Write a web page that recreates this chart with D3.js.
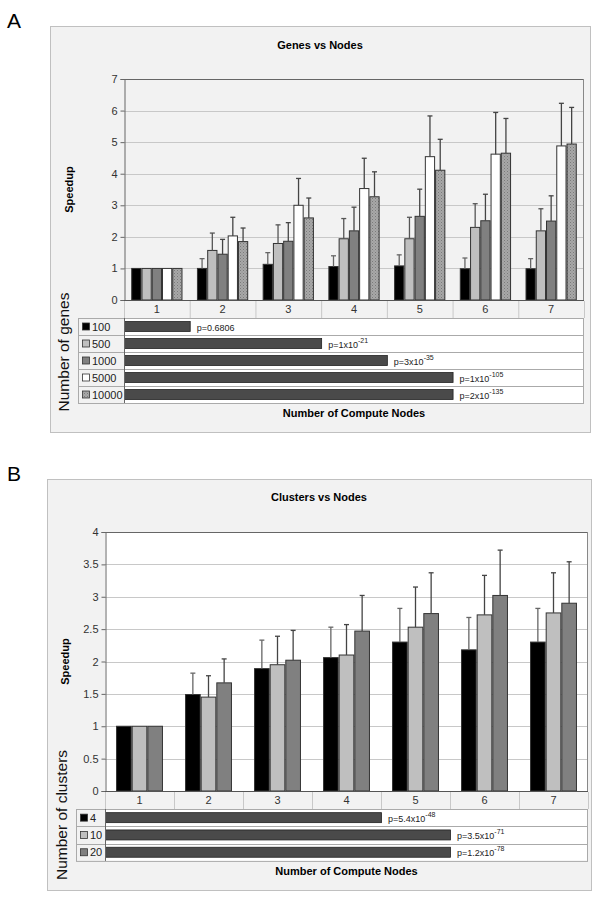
<!DOCTYPE html>
<html><head><meta charset="utf-8">
<script src="https://cdn.jsdelivr.net/npm/d3@7"></script>
<style>body{margin:0;background:#fff;font-family:"Liberation Sans",Arial,Helvetica,sans-serif}</style>
</head><body>
<svg id="c" width="600" height="901"></svg>
<script>
// ---------- data ----------
const nodes = ["1","2","3","4","5","6","7"];

const geneSeries = ["100","500","1000","5000","10000"];
const geneMean100   = [1.00,1.00,1.13,1.06,1.08,0.99,0.99];
const geneMean500   = [1.00,1.57,1.79,1.94,1.94,2.30,2.19];
const geneMean1000  = [1.00,1.45,1.86,2.19,2.65,2.51,2.50];
const geneMean5000  = [1.00,2.03,3.00,3.53,4.54,4.62,4.88];
const geneMean10000 = [1.00,1.85,2.60,3.27,4.11,4.65,4.94];
const geneErr100    = [0,0.31,0.37,0.34,0.35,0.34,0.32];
const geneErr500    = [0,0.55,0.59,0.64,0.68,0.75,0.70];
const geneErr1000   = [0,0.47,0.59,0.75,0.86,0.84,0.80];
const geneErr5000   = [0,0.59,0.85,0.96,1.29,1.32,1.35];
const geneErr10000  = [0,0.43,0.63,0.79,0.98,1.10,1.16];
const geneSigNodes  = [1,3,4,5,5];
const genePBase     = ["p=0.6806","p=1x10","p=3x10","p=1x10","p=2x10"];
const genePExp      = ["","-21","-35","-105","-135"];

const clusterSeries = ["4","10","20"];
const clusterMean4  = [1.00,1.49,1.89,2.06,2.30,2.18,2.30];
const clusterMean10 = [1.00,1.45,1.95,2.10,2.53,2.72,2.75];
const clusterMean20 = [1.00,1.67,2.02,2.47,2.74,3.02,2.90];
const clusterErr4   = [0,0.33,0.44,0.47,0.52,0.50,0.52];
const clusterErr10  = [0,0.33,0.44,0.47,0.62,0.61,0.62];
const clusterErr20  = [0,0.37,0.46,0.55,0.63,0.70,0.64];
const clusterSigNodes = [4,5,5];
const clusterPBase  = ["p=5.4x10","p=3.5x10","p=1.2x10"];
const clusterPExp   = ["-48","-71","-78"];

const yTicksA = [0,1,2,3,4,5,6,7];
const yTicksB = [0,0.5,1,1.5,2,2.5,3,3.5,4];
const yTickLabelsB = ["0","0.5","1","1.5","2","2.5","3","3.5","4"];

// ---------- drawing ----------
const svg = d3.select("#c");
const defs = svg.append("defs");
const pat = defs.append("pattern").attr("id","hatch").attr("patternUnits","userSpaceOnUse")
  .attr("width",3).attr("height",3);
pat.append("rect").attr("width",3).attr("height",3).attr("fill","#a8a8a8");
pat.append("rect").attr("x",0).attr("y",0).attr("width",1).attr("height",1).attr("fill","#7a7a7a");
pat.append("rect").attr("x",1.5).attr("y",1.5).attr("width",1).attr("height",1).attr("fill","#8a8a8a");

const FONT = '"Liberation Sans",Arial,Helvetica,sans-serif';

function panel(cfg){
  const g = svg.append("g");
  g.append("text").attr("x",cfg.letterX).attr("y",cfg.letterY).text(cfg.letter)
    .attr("font-size",21).attr("font-family",FONT).attr("fill","#000");
  g.append("rect").attr("x",cfg.box[0]+0.5).attr("y",cfg.box[1]+0.5)
    .attr("width",cfg.box[2]-cfg.box[0]).attr("height",cfg.box[3]-cfg.box[1])
    .attr("fill","#f2f2f2").attr("stroke","#c0c0c0");
  g.append("text").attr("x",(cfg.box[0]+cfg.box[2])/2).attr("y",cfg.titleY)
    .attr("text-anchor","middle").attr("font-weight","bold").attr("font-size",11)
    .attr("font-family",FONT).text(cfg.title);

  const [L,T,R,B] = cfg.plot;
  const y = d3.scaleLinear().domain([0,cfg.yMax]).range([B,T]);
  const x = d3.scaleBand().domain(nodes).range([L,R]).paddingInner(0).paddingOuter(0);
  const xLin = d3.scaleLinear().domain([0,nodes.length]).range([L,R]);
  const xs = d3.scaleBand().domain(cfg.series).range([0,x.bandwidth()*cfg.groupFrac]);
  const groupOff = (x.bandwidth()-x.bandwidth()*cfg.groupFrac)/2;

  g.append("rect").attr("x",L).attr("y",T).attr("width",R-L).attr("height",B-T).attr("fill",cfg.plotBg);
  g.append("g").selectAll("line").data(cfg.yTicks.filter(v=>v>0 && v<cfg.yMax)).join("line")
    .attr("x1",L).attr("x2",R).attr("y1",d=>Math.round(y(d))+0.5).attr("y2",d=>Math.round(y(d))+0.5)
    .attr("stroke","#c8c8c8");
  const ya = d3.axisLeft(y).tickValues(cfg.yTicks).tickSize(4).tickFormat((d,i)=>cfg.yLabels[i]);
  const yg = g.append("g").attr("transform",`translate(${L+0.5},0)`).call(ya);
  yg.select(".domain").attr("stroke","#666");
  yg.selectAll(".tick line").attr("stroke","#666");
  yg.selectAll("text").attr("font-size",11).attr("font-family",FONT).attr("fill","#333").attr("x",-7);
  g.append("line").attr("x1",L).attr("x2",R).attr("y1",T+0.5).attr("y2",T+0.5).attr("stroke","#666").attr("stroke-width",1.2);
  g.append("line").attr("x1",R-0.5).attr("x2",R-0.5).attr("y1",T).attr("y2",B).attr("stroke","#888");

  cfg.series.forEach((s,si)=>{
    const means = cfg.means[si], errs = cfg.errs[si];
    const bg = g.append("g");
    bg.selectAll("rect").data(nodes).join("rect")
      .attr("x",d=>x(d)+groupOff+xs(s)+0.5)
      .attr("y",(d,i)=>y(means[i]))
      .attr("width",xs.bandwidth()-1)
      .attr("height",(d,i)=>B-y(means[i]))
      .attr("fill",cfg.colors[si]).attr("stroke","#333").attr("stroke-width",1);
    const eg = g.append("g").attr("stroke",cfg.errColors[si]).attr("stroke-width",1.3);
    nodes.forEach((d,i)=>{
      if(errs[i]<=0) return;
      const cx = x(d)+groupOff+xs(s)+xs.bandwidth()/2;
      eg.append("line").attr("x1",cx).attr("x2",cx).attr("y1",y(means[i])).attr("y2",y(means[i]+errs[i]));
      eg.append("line").attr("x1",cx-2.5).attr("x2",cx+2.5).attr("y1",y(means[i]+errs[i])).attr("y2",y(means[i]+errs[i]));
    });
  });
  g.append("line").attr("x1",L).attr("x2",R).attr("y1",B+0.5).attr("y2",B+0.5).attr("stroke","#555").attr("stroke-width",1.2);

  const catTop = B+1, catBot = cfg.tableTop;
  g.append("g").selectAll("line").data(d3.range(nodes.length+1)).join("line")
    .attr("x1",i=>xLin(i)+0.5).attr("x2",i=>xLin(i)+0.5).attr("y1",catTop).attr("y2",catBot)
    .attr("stroke","#c8c8c8");
  g.append("g").selectAll("text").data(nodes).join("text")
    .attr("x",d=>x(d)+x.bandwidth()/2).attr("y",catBot-5).attr("text-anchor","middle")
    .attr("font-size",11).attr("font-family",FONT).attr("fill","#333").text(d=>d);

  const rh = cfg.rowH, tL = cfg.legendX;
  const nRows = cfg.series.length;
  const tBot = cfg.tableTop + rh*nRows;
  g.append("rect").attr("x",L).attr("y",cfg.tableTop).attr("width",R-L).attr("height",tBot-cfg.tableTop).attr("fill","#fff");
  cfg.series.forEach((s,ri)=>{
    const ry = cfg.tableTop + ri*rh;
    g.append("line").attr("x1",tL).attr("x2",R).attr("y1",Math.round(ry)+0.5).attr("y2",Math.round(ry)+0.5).attr("stroke","#aaa");
    g.append("rect").attr("x",tL+4.5).attr("y",ry+rh/2-3.5).attr("width",7).attr("height",7)
      .attr("fill",cfg.colors[ri]).attr("stroke","#333").attr("stroke-width",0.8);
    g.append("text").attr("x",tL+14).attr("y",ry+rh/2+4).attr("font-size",11)
      .attr("font-family",FONT).attr("fill","#222").text(s);
    const bx = xLin(cfg.sig[ri]);
    g.append("rect").attr("x",L+0.5).attr("y",ry+rh/2-5).attr("width",bx-L).attr("height",10)
      .attr("fill","#4a4a4a").attr("stroke","#222").attr("stroke-width",0.8);
    const t = g.append("text").attr("x",bx+7).attr("y",ry+rh/2+4).attr("font-size",9)
      .attr("font-family",FONT).attr("fill","#222");
    t.append("tspan").text(cfg.pBase[ri]);
    if(cfg.pExp[ri]) t.append("tspan").attr("dy",-5).attr("font-size",7).text(cfg.pExp[ri]);
  });
  g.append("rect").attr("x",tL+0.5).attr("y",cfg.tableTop+0.5).attr("width",R-tL-1).attr("height",tBot-cfg.tableTop)
    .attr("fill","none").attr("stroke","#aaa");
  g.append("line").attr("x1",L+0.5).attr("x2",L+0.5).attr("y1",cfg.tableTop).attr("y2",tBot).attr("stroke","#666");

  g.append("text").attr("transform",`translate(${cfg.speedX},${(T+B)/2}) rotate(-90)`)
    .attr("text-anchor","middle").attr("font-weight","bold").attr("font-size",11)
    .attr("font-family",FONT).text("Speedup");
  g.append("text").attr("transform",`translate(${cfg.vLabelX},${cfg.vLabelY}) rotate(-90)`)
    .attr("text-anchor","middle").attr("font-size",15.5).attr("font-family",FONT).attr("fill","#111").text(cfg.vLabel);
  g.append("text").attr("x",(L+R)/2).attr("y",tBot+14).attr("text-anchor","middle")
    .attr("font-weight","bold").attr("font-size",11).attr("font-family",FONT).text("Number of Compute Nodes");
}

panel({
  letter:"A", letterX:7, letterY:28, title:"Genes vs Nodes", titleY:49,
  box:[50,26,590,432], plot:[124,79,584,300], yMax:7, yTicks:yTicksA, yLabels:yTicksA.map(String),
  plotBg:"#f2f2f2", series:geneSeries,
  means:[geneMean100,geneMean500,geneMean1000,geneMean5000,geneMean10000],
  errs:[geneErr100,geneErr500,geneErr1000,geneErr5000,geneErr10000],
  colors:["#000000","#bfbfbf","#808080","#ffffff","url(#hatch)"],
  errColors:["#666","#555","#444","#444","#444"],
  groupFrac:0.78, tableTop:318, rowH:17, legendX:78,
  sig:geneSigNodes, pBase:genePBase, pExp:genePExp,
  speedX:73, vLabelX:69, vLabelY:352, vLabel:"Number of genes"
});
panel({
  letter:"B", letterX:7, letterY:481, title:"Clusters vs Nodes", titleY:501,
  box:[47,479,591,890], plot:[105,532,588,791], yMax:4, yTicks:yTicksB, yLabels:yTickLabelsB,
  plotBg:"#ffffff", series:clusterSeries,
  means:[clusterMean4,clusterMean10,clusterMean20],
  errs:[clusterErr4,clusterErr10,clusterErr20],
  colors:["#000000","#bfbfbf","#808080"],
  errColors:["#666","#444","#444"],
  groupFrac:0.68, tableTop:809, rowH:17.3, legendX:76,
  sig:clusterSigNodes, pBase:clusterPBase, pExp:clusterPExp,
  speedX:69, vLabelX:67, vLabelY:815, vLabel:"Number of clusters"
});
</script>
</body></html>
